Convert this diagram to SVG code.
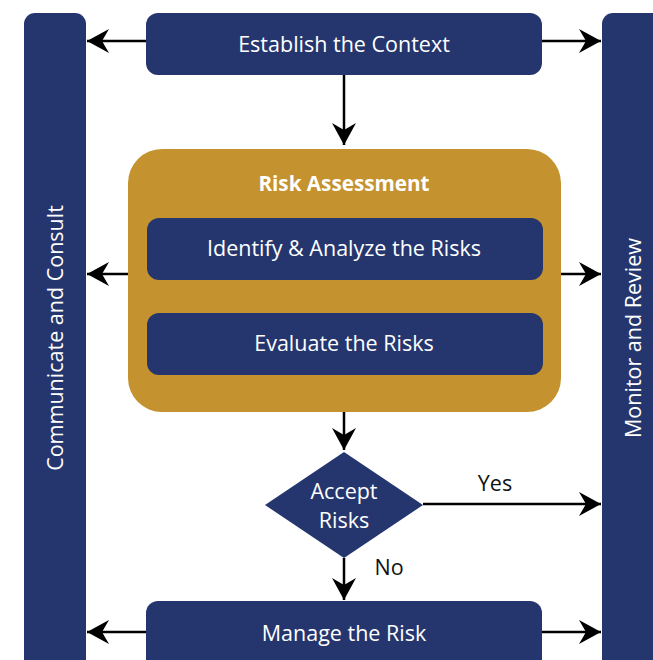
<svg xmlns="http://www.w3.org/2000/svg" width="653" height="660" viewBox="0 0 653 660">
<style>
.navy{fill:#25366E}
.gold{fill:#C4922E}
.t{font-family:"Open Sans","Noto Sans",sans-serif;fill:#FFFFFF;text-anchor:middle;font-size:21.5px}
.b{font-weight:bold;font-size:20.7px}
.lbl{font-family:"Open Sans","Noto Sans",sans-serif;fill:#111111;text-anchor:middle;font-size:21.5px}
.c{stroke:#000;stroke-width:2.5;fill:none}
</style>
<defs>
<marker id="ah" markerUnits="userSpaceOnUse" markerWidth="24" markerHeight="26" viewBox="-23 -13 24 26" refX="0" refY="0" orient="auto">
<path d="M0,0 L-22,-12 L-15,0 L-22,12 Z" fill="#000"/>
</marker>
</defs>
<g id="communicate">
<rect class="navy" x="24" y="13" width="62" height="660" rx="11"/>
<text class="t" transform="translate(63,338) rotate(-90)">Communicate and Consult</text>
</g>
<g id="monitor">
<rect class="navy" x="602" y="13" width="70" height="660" rx="11"/>
<text class="t" transform="translate(641,338) rotate(-90)">Monitor and Review</text>
</g>
<g id="establish">
<rect class="navy" x="146" y="13" width="396" height="62" rx="12"/>
<text class="t" x="344" y="52">Establish the Context</text>
</g>
<g id="assessment">
<rect class="gold" x="128" y="149" width="433" height="263" rx="34"/>
<text class="t b" x="344" y="191">Risk Assessment</text>
</g>
<g id="identify">
<rect class="navy" x="147" y="218" width="396" height="62" rx="12"/>
<text class="t" x="344" y="256">Identify &amp; Analyze the Risks</text>
</g>
<g id="evaluate">
<rect class="navy" x="147" y="313" width="396" height="62" rx="12"/>
<text class="t" x="344" y="351">Evaluate the Risks</text>
</g>
<g id="accept">
<polygon class="navy" points="344,452 423,505 344,558 265,505"/>
<text class="t" x="344" y="499">Accept</text>
<text class="t" x="344" y="528">Risks</text>
</g>
<g id="manage">
<rect class="navy" x="146" y="601" width="396" height="72" rx="12"/>
<text class="t" x="344" y="641">Manage the Risk</text>
</g>
<g id="connectors">
<line class="c" x1="146" y1="41" x2="87" y2="41" marker-end="url(#ah)"/>
<line class="c" x1="542" y1="41" x2="601" y2="41" marker-end="url(#ah)"/>
<line class="c" x1="344" y1="75" x2="344" y2="145" marker-end="url(#ah)"/>
<line class="c" x1="128" y1="274" x2="87" y2="274" marker-end="url(#ah)"/>
<line class="c" x1="561" y1="274" x2="601" y2="274" marker-end="url(#ah)"/>
<line class="c" x1="344" y1="412" x2="344" y2="450" marker-end="url(#ah)"/>
<line class="c" x1="423" y1="504" x2="601" y2="504" marker-end="url(#ah)"/>
<line class="c" x1="344" y1="558" x2="344" y2="600" marker-end="url(#ah)"/>
<line class="c" x1="146" y1="632" x2="87" y2="632" marker-end="url(#ah)"/>
<line class="c" x1="542" y1="632" x2="601" y2="632" marker-end="url(#ah)"/>
<text class="lbl" x="495" y="491">Yes</text>
<text class="lbl" x="389" y="575">No</text>
</g>
</svg>
